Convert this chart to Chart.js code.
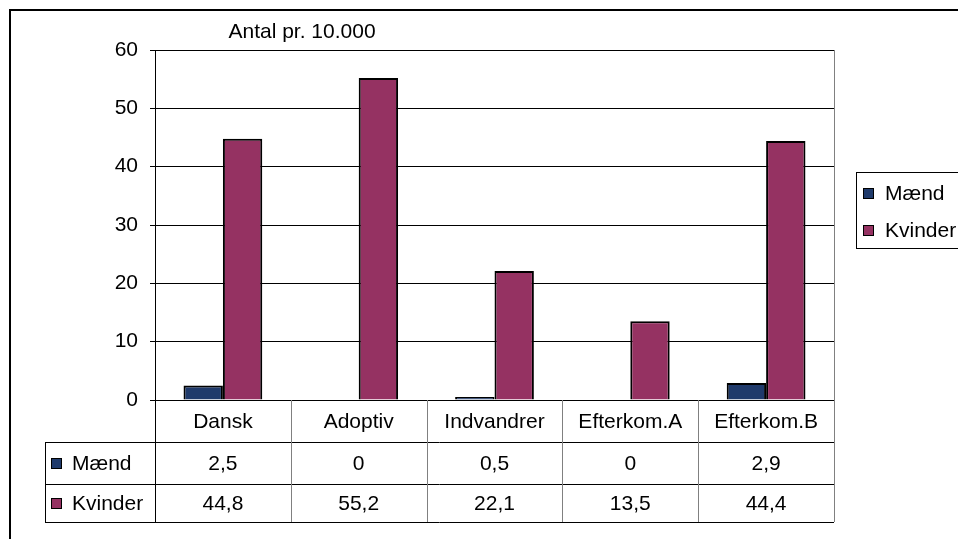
<!DOCTYPE html>
<html>
<head>
<meta charset="utf-8">
<script src="https://cdn.jsdelivr.net/npm/chart.js@4.4.1/dist/chart.umd.min.js"></script>
<style>
  html, body { margin: 0; padding: 0; background: #fff; }
  canvas { display: block; }
</style>
</head>
<body>
<canvas id="chart" width="958" height="539"></canvas>
<script>
// data
const categories = ['Dansk', 'Adoptiv', 'Indvandrer', 'Efterkom.A', 'Efterkom.B']
const maend = [2.5, 0, 0.5, 0, 2.9]
const kvinder = [44.8, 55.2, 22.1, 13.5, 44.4]
const seriesNames = ['Mænd', 'Kvinder']
const seriesColors = ['#1f3a6b', '#953262']
const chartTitle = 'Antal pr. 10.000'

const FONT = '21px "Liberation Sans", Arial, sans-serif'
const fmt = (v) => String(v).replace('.', ',')

function marker(ctx, x, y, color) {
  ctx.fillStyle = color
  ctx.fillRect(x, y, 11, 11)
  ctx.lineWidth = 1
  ctx.strokeStyle = '#000'
  ctx.strokeRect(x + 0.5, y + 0.5, 10, 10)
}

function line(ctx, x1, y1, x2, y2, color) {
  ctx.beginPath()
  ctx.strokeStyle = color
  ctx.lineWidth = 1
  ctx.moveTo(x1, y1)
  ctx.lineTo(x2, y2)
  ctx.stroke()
}

// excel style frame, data table, legend and title
const excelFrame = {
  id: 'excelFrame',
  beforeDraw(chart) {
    const ctx = chart.ctx
    ctx.save()
    ctx.fillStyle = '#fff'
    ctx.fillRect(0, 0, chart.width, chart.height)
    ctx.restore()
  },
  afterDraw(chart) {
    const ctx = chart.ctx
    const area = chart.chartArea
    const xs = chart.scales.x
    const n = chart.data.labels.length
    const cw = (xs.right - xs.left) / n
    const rowH = 42
    const r0 = Math.round(area.bottom)
    const r1 = r0 + rowH
    const r2 = r1 + rowH
    const r3 = r2 + 38
    const tableLeft = 45
    ctx.save()

    // table lines
    line(ctx, tableLeft, r1 + 0.5, area.right, r1 + 0.5, '#000')
    line(ctx, tableLeft, r2 + 0.5, area.right, r2 + 0.5, '#000')
    line(ctx, tableLeft, r3 + 0.5, area.right, r3 + 0.5, '#000')
    line(ctx, tableLeft + 0.5, r1, tableLeft + 0.5, r3, '#000')
    line(ctx, Math.round(area.left) + 0.5, r0, Math.round(area.left) + 0.5, r3, '#000')
    for (let i = 1; i < n; i++) {
      const bx = Math.round(xs.left + i * cw) + 0.5
      line(ctx, bx, r0, bx, r3, '#808080')
    }
    line(ctx, Math.round(area.right) + 0.5, area.top, Math.round(area.right) + 0.5, r3, '#808080')

    // table text
    ctx.font = FONT
    ctx.fillStyle = '#000'
    ctx.textAlign = 'center'
    ctx.textBaseline = 'middle'
    chart.data.labels.forEach((lab, i) => {
      const cx = xs.getPixelForValue(i)
      ctx.fillText(lab, cx, (r0 + r1) / 2 + 1)
      chart.data.datasets.forEach((ds, j) => {
        const ry = j === 0 ? (r1 + r2) / 2 : (r2 + r3) / 2
        ctx.fillStyle = '#000'
        ctx.fillText(fmt(ds.data[i]), cx, ry + 1)
      })
    })
    chart.data.datasets.forEach((ds, j) => {
      const ry = j === 0 ? (r1 + r2) / 2 : (r2 + r3) / 2
      marker(ctx, 51, Math.round(ry) - 5, ds.backgroundColor)
      ctx.fillStyle = '#000'
      ctx.textAlign = 'left'
      ctx.fillText(ds.label, 72, ry + 1)
    })

    // legend box
    ctx.lineWidth = 1
    ctx.strokeStyle = '#000'
    ctx.strokeRect(856.5, 172.5, 120, 76)
    chart.data.datasets.forEach((ds, j) => {
      const ly = 193 + j * 37
      marker(ctx, 863, ly - 5, ds.backgroundColor)
      ctx.fillStyle = '#000'
      ctx.textAlign = 'left'
      ctx.fillText(ds.label, 885, ly + 1)
    })

    // title
    ctx.textAlign = 'center'
    ctx.fillText(chartTitle, 302, 32)

    // outer border
    ctx.lineWidth = 2
    ctx.strokeStyle = '#000'
    ctx.strokeRect(10, 10, 1100, 700)
    ctx.restore()
  }
}

new Chart(document.getElementById('chart').getContext('2d'), {
  type: 'bar',
  data: {
    labels: categories,
    datasets: [
      {
        label: seriesNames[0],
        data: maend,
        backgroundColor: seriesColors[0],
        borderColor: '#000',
        borderWidth: 2,
      },
      {
        label: seriesNames[1],
        data: kvinder,
        backgroundColor: seriesColors[1],
        borderColor: '#000',
        borderWidth: 2,
      },
    ],
  },
  options: {
    responsive: false,
    animation: false,
    layout: {
      padding: { left: 95, top: 50, right: 124, bottom: 139 },
    },
    datasets: {
      bar: {
        categoryPercentage: 0.58,
        barPercentage: 1.0,
      },
    },
    plugins: {
      legend: { display: false },
      title: { display: false },
      tooltip: { enabled: false },
    },
    scales: {
      x: {
        display: false,
      },
      y: {
        min: 0,
        max: 60,
        afterFit: (scale) => {
          scale.width = 60
        },
        border: {
          color: '#000',
          width: 1,
        },
        grid: {
          color: '#000',
          lineWidth: 1,
          tickLength: 5,
        },
        ticks: {
          stepSize: 10,
          padding: 12,
          color: '#000',
          font: {
            size: 21,
            family: '"Liberation Sans", Arial, sans-serif',
          },
        },
      },
    },
  },
  plugins: [excelFrame],
})
</script>
</body>
</html>
